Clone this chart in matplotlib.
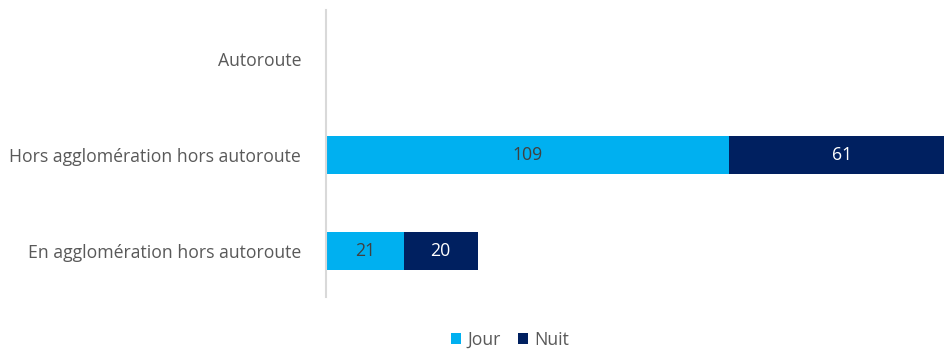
import matplotlib.pyplot as plt

categories = ["En agglomération hors autoroute",
              "Hors agglomération hors autoroute",
              "Autoroute"]
jour = [21, 109, 0]
nuit = [20, 61, 0]

C_JOUR = "#00B0F0"
C_NUIT = "#002060"

plt.rcParams["font.family"] = ["Open Sans", "DejaVu Sans"]

fig = plt.figure(figsize=(9.45, 3.51), dpi=100)
ax = fig.add_axes([0.345, 0.154, 0.655, 0.818])

y = range(len(categories))
b1 = ax.barh(y, jour, height=0.40, color=C_JOUR, label="Jour")
b2 = ax.barh(y, nuit, left=jour, height=0.40, color=C_NUIT, label="Nuit")

for rect, v in zip(b1, jour):
    if v:
        ax.text(rect.get_x() + rect.get_width() / 2, rect.get_y() + rect.get_height() / 2,
                str(v), ha="center", va="center", color="#404040", fontsize=12.7)
for rect, v in zip(b2, nuit):
    if v:
        ax.text(rect.get_x() + rect.get_width() / 2, rect.get_y() + rect.get_height() / 2,
                str(v), ha="center", va="center", color="white", fontsize=12.7)

ax.set_xlim(0, 167.3)
ax.set_ylim(-0.48, 2.51)
ax.set_yticks(list(y))
ax.set_yticklabels(categories, color="#595959", fontsize=12.7)
ax.tick_params(axis="y", length=0, pad=18)
ax.set_xticks([])

for s in ["top", "right", "bottom"]:
    ax.spines[s].set_visible(False)
ax.spines["left"].set_color("#D9D9D9")
ax.spines["left"].set_linewidth(1.5)

fig.legend(handles=[b1, b2], loc="center", bbox_to_anchor=(0.54, 0.032),
           ncol=2, frameon=False, fontsize=12.7, labelcolor="#595959",
           handlelength=0.55, handleheight=0.55, handletextpad=0.35,
           columnspacing=1.0, borderpad=0.2)

fig.savefig("out.png", dpi=100)
